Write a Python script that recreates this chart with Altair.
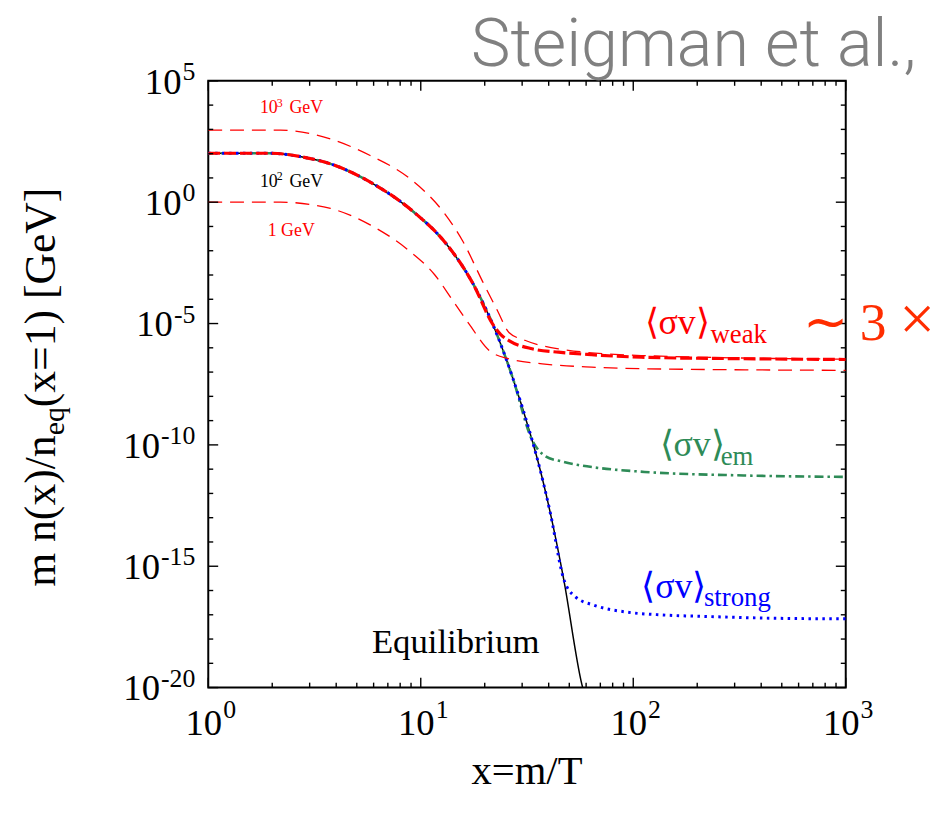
import altair as alt
import pandas as pd

# ---------------- values ----------------
# Equilibrium curve (black solid)
EQ_X = [1.0, 1.5, 1.97, 2.7, 3.76, 6.0, 9.23, 13.2, 17.6, 21.8, 27.0, 33.4,
        35.3, 40.7, 47.0, 57.3, 57.8]
EQ_Y = [1.04e2, 1.04e2, 1.04e2, 7.6e1, 3.8e1, 5.6e0, 4.06e-1, 1.9e-2,
        4.47e-4, 9.55e-6, 6.3e-8, 1.6e-10, 2.8e-11, 1.58e-13, 3.11e-16,
        1.36e-20, 1.0e-20]

# weak, m = 10^2 GeV (thick red dashed), after leaving equilibrium at x=21.8
WEAK100_X = [23.8, 26.0, 33.4, 44.5, 63.7, 109, 331, 1000]
WEAK100_Y = [3.5e-6, 1.98e-6, 9.1e-7, 6.6e-7, 5.2e-7, 4.1e-7, 3.55e-7, 3.3e-7]
WEAK100_FROM = 21.8

# weak, m = 10^3 GeV (thin red dashed)
W1000_X = [1.0, 2.19, 3.76, 5.78, 8.89, 12.9, 15.8, 19.5, 23.0, 26.0, 31.1,
           44.5, 109, 1000]
W1000_Y = [9.3e2, 9.3e2, 4.0e2, 8.4e1, 9.3e0, 3.55e-1, 2.4e-2, 5.6e-4, 3.3e-5,
           4.3e-6, 2.0e-6, 9.1e-7, 4.8e-7, 3.4e-7]

# weak, m = 1 GeV (thin red dashed)
W1_X = [1.0, 2.19, 3.76, 5.78, 8.89, 11.6, 14.2, 16.9, 21.0, 26.0, 37.3,
        63.7, 109, 1000]
W1_Y = [1.0, 1.0, 5.5e-1, 1.16e-1, 9.4e-3, 1.05e-3, 8.5e-5, 9.5e-6, 7.7e-7,
        3.5e-7, 2.2e-7, 1.6e-7, 1.38e-7, 1.18e-7]

# electromagnetic (green dash-dot), after leaving equilibrium at x=33.4
EM_X = [38.6, 46.2, 55.2, 66.1, 113, 331, 1000]
EM_Y = [3.4e-11, 2.06e-11, 1.48e-11, 1.17e-11, 7.7e-12, 5.5e-12, 4.8e-12]
EM_FROM = 33.4

# strong (blue dotted), after leaving equilibrium at x=47.0
ST_X = [53.3, 66.1, 94.5, 135, 223, 457, 1000]
ST_Y = [5.6e-17, 2.4e-17, 1.27e-17, 9.9e-18, 8.5e-18, 7.2e-18, 6.8e-18]
ST_FROM = 47.0

X_TICK_EXP = [0, 1, 2, 3]
Y_TICK_EXP = [5, 0, -5, -10, -15, -20]

# ---------------- layout / style ----------------
W, H = 643, 612
XS = alt.Scale(type="log", domain=[1, 1000])
YS = alt.Scale(type="log", domain=[1e-20, 1e5])
SERIF = "Liberation Serif"
RED = "#ff0000"
GREEN = "#2e8b57"
BLUE = "#0000ff"

ONE = pd.DataFrame({"k": [0]})


def frame(xv, yv):
    return pd.DataFrame({"x": xv, "y": yv})


def with_eq_prefix(until, xv, yv):
    px = [a for a in EQ_X if a <= until]
    py = [b for a, b in zip(EQ_X, EQ_Y) if a <= until]
    return frame(px + list(xv), py + list(yv))


def line(df, **kw):
    return alt.Chart(df).mark_line(interpolate="monotone", clip=True, **kw).encode(
        x=alt.X("x:Q", scale=XS, axis=None),
        y=alt.Y("y:Q", scale=YS, axis=None),
    )


layers = []

# curves
layers.append(line(frame(EQ_X, EQ_Y), color="black", strokeWidth=1.5))
layers.append(line(with_eq_prefix(EM_FROM, EM_X, EM_Y), color=GREEN,
                   strokeWidth=2.6, strokeDash=[9, 4, 2.5, 4]))
layers.append(line(with_eq_prefix(ST_FROM, ST_X, ST_Y), color=BLUE,
                   strokeWidth=3, strokeDash=[2.5, 4.5]))
layers.append(line(frame(W1000_X, W1000_Y), color=RED, strokeWidth=1.3,
                   strokeDash=[14, 8]))
layers.append(line(frame(W1_X, W1_Y), color=RED, strokeWidth=1.3,
                   strokeDash=[14, 8]))
layers.append(line(with_eq_prefix(WEAK100_FROM, WEAK100_X, WEAK100_Y),
                   color=RED, strokeWidth=3.2, strokeDash=[12, 4]))

# inward ticks on all four sides
x_major = [10.0 ** e for e in X_TICK_EXP]
x_minor = [m * 10.0 ** d for d in range(3) for m in range(2, 10)]
y_all = [10.0 ** e for e in range(-20, 6)]
y_major = [10.0 ** e for e in Y_TICK_EXP]
y_minor = [v for v in y_all if v not in y_major]


def xtick(vals, length):
    df = pd.DataFrame({"v": vals})
    base = alt.Chart(df).mark_rule(color="black", strokeWidth=1.4)
    enc = dict(x=alt.X("v:Q", scale=XS, axis=None))
    return [base.encode(y=alt.value(H), y2=alt.value(H - length), **enc),
            base.encode(y=alt.value(0), y2=alt.value(length), **enc)]


def ytick(vals, length):
    df = pd.DataFrame({"v": vals})
    base = alt.Chart(df).mark_rule(color="black", strokeWidth=1.4)
    enc = dict(y=alt.Y("v:Q", scale=YS, axis=None))
    return [base.encode(x=alt.value(0), x2=alt.value(length), **enc),
            base.encode(x=alt.value(W), x2=alt.value(W - length), **enc)]


layers += xtick(x_major, 10) + xtick(x_minor, 5)
layers += ytick(y_major, 10) + ytick(y_minor, 5)

# x tick labels: 10 with superscript exponent
BASE_FS, EXP_FS = 37, 26
xl = pd.DataFrame({"v": x_major, "e": [str(e) for e in X_TICK_EXP]})
layers.append(alt.Chart(xl).mark_text(text="10", font=SERIF, fontSize=BASE_FS,
                                      align="right", baseline="alphabetic",
                                      dx=14, color="black").encode(
    x=alt.X("v:Q", scale=XS, axis=None), y=alt.value(H + 48)))
layers.append(alt.Chart(xl).mark_text(font=SERIF, fontSize=EXP_FS, align="left",
                                      baseline="alphabetic", dx=15,
                                      color="black").encode(
    x=alt.X("v:Q", scale=XS, axis=None), y=alt.value(H + 31), text="e:N"))

# y tick labels
CW = {"-": 0.333, "0": 0.5, "1": 0.5, "2": 0.5, "5": 0.5}
Y_EXP_RIGHT = -13
for e in Y_TICK_EXP:
    s = str(e)
    ew = sum(CW[c] for c in s) * EXP_FS
    df = pd.DataFrame({"v": [10.0 ** e], "e": [s]})
    layers.append(alt.Chart(df).mark_text(text="10", font=SERIF, fontSize=BASE_FS,
                                          align="right", baseline="alphabetic",
                                          dy=13, color="black").encode(
        x=alt.value(Y_EXP_RIGHT - ew - 1), y=alt.Y("v:Q", scale=YS, axis=None)))
    layers.append(alt.Chart(df).mark_text(font=SERIF, fontSize=EXP_FS,
                                          align="right", baseline="alphabetic",
                                          dy=-1, color="black").encode(
        x=alt.value(Y_EXP_RIGHT), y=alt.Y("v:Q", scale=YS, axis=None),
        text="e:N"))

# axis titles
layers.append(alt.Chart(ONE).mark_text(text="x=m/T", font=SERIF, fontSize=41,
                                       align="center", baseline="alphabetic",
                                       color="black").encode(
    x=alt.value(W / 2), y=alt.value(H + 97)))

TFS, SFS = 44, 30
w1 = (778 + 250 + 500 + 333 + 500 + 333 + 278 + 500) / 1000 * TFS
w2 = (444 + 500) / 1000 * SFS
w3 = (333 + 500 + 564 + 500 + 333 + 250 + 333 + 722 + 444 + 722 + 333) / 1000 * TFS
y_start = H / 2 + 3 + (w1 + w2 + w3) / 2
TX = -155
for txt, fs, yy, xx in [("m n(x)/n", TFS, y_start, TX),
                        ("eq", SFS, y_start - w1, TX + 9),
                        ("(x=1) [GeV]", TFS, y_start - w1 - w2, TX)]:
    layers.append(alt.Chart(ONE).mark_text(text=txt, font=SERIF, fontSize=fs,
                                           angle=270, align="left",
                                           baseline="alphabetic",
                                           color="black").encode(
        x=alt.value(xx), y=alt.value(yy)))

# curve annotations (data coordinates)
ANNOT = [
    ("10", 1.75, 4.6e3, RED, 18), ("3", 2.10, 8.7e3, RED, 12),
    ("GeV", 2.41, 4.6e3, RED, 18),
    ("10", 1.75, 4.26, "black", 18), ("2", 2.10, 8.2, "black", 12),
    ("GeV", 2.41, 4.26, "black", 18),
    ("1 GeV", 1.905, 0.0424, RED, 18),
    ("\u27e8\u03c3v\u27e9", 113, 3.7e-6, RED, 36), ("weak", 231, 1.54e-6, RED, 27),
    ("\u27e8\u03c3v\u27e9", 133, 3.4e-11, GREEN, 36), ("em", 258, 1.55e-11, GREEN, 27),
    ("\u27e8\u03c3v\u27e9", 109, 4.8e-17, BLUE, 36), ("strong", 215, 2.24e-17, BLUE, 27),
    ("Equilibrium", 5.89, 2.7e-19, "black", 35),
]
for txt, ax, ay, col, fs in ANNOT:
    df = pd.DataFrame({"x": [ax], "y": [ay]})
    layers.append(alt.Chart(df).mark_text(text=txt, font=SERIF, fontSize=fs,
                                          align="left", baseline="alphabetic",
                                          color=col).encode(
        x=alt.X("x:Q", scale=XS, axis=None), y=alt.Y("y:Q", scale=YS, axis=None)))

# slide decorations
layers.append(alt.Chart(ONE).mark_text(text="Steigman et al.,", font="Roboto",
                                       fontWeight=300, fontSize=67, align="right",
                                       baseline="alphabetic",
                                       color="#808080").encode(
    x=alt.value(714), y=alt.value(-15)))
for txt, xx, fs in [("\u223c", 600, 54), ("3", 657, 54), ("\u00d7", 697, 64)]:
    layers.append(alt.Chart(ONE).mark_text(text=txt, font=SERIF, fontSize=fs,
                                           align="left", baseline="alphabetic",
                                           color="#ff2d00").encode(
        x=alt.value(xx), y=alt.value(261)))

chart = alt.layer(*layers).properties(
    width=W, height=H,
    autosize=alt.AutoSizeParams(type="none"),
    padding={"left": 202, "top": 70, "right": 87, "bottom": 121},
    background="white",
).configure_view(stroke="black", strokeWidth=2)

chart.save("out.html", embed_options={"renderer": "svg", "actions": False})
